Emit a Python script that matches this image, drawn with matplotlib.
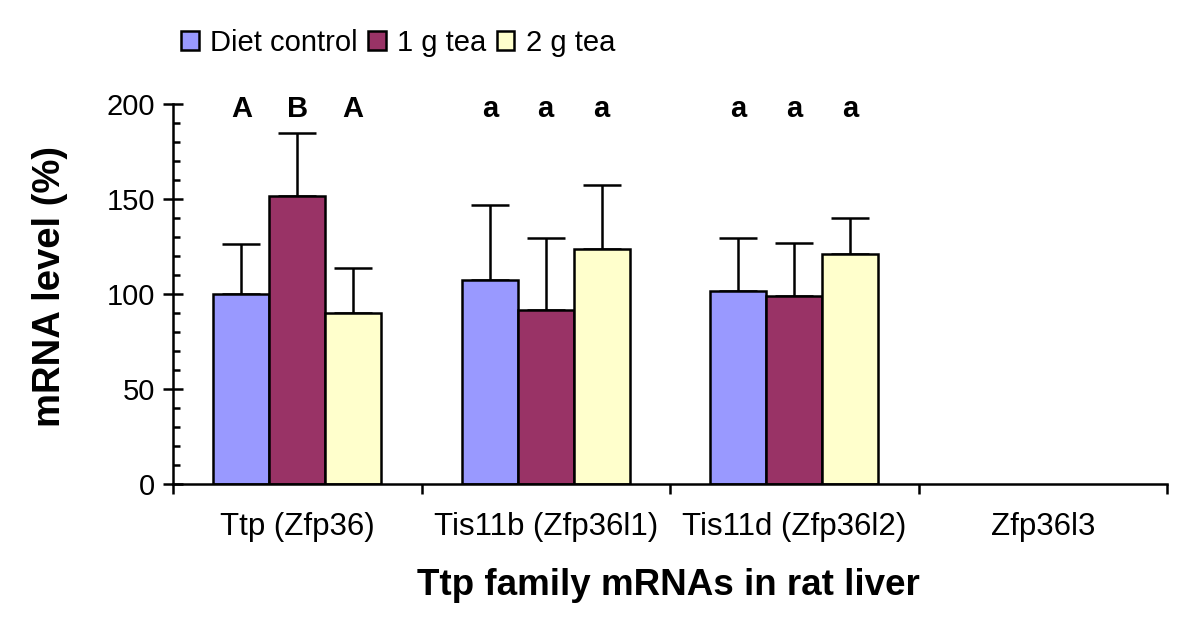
import matplotlib
matplotlib.use("Agg")
import matplotlib.pyplot as plt
from matplotlib.ticker import MultipleLocator, FixedLocator
import numpy as np

plt.rcParams['font.family'] = ['Liberation Sans', 'DejaVu Sans']

categories = ["Ttp (Zfp36)", "Tis11b (Zfp36l1)", "Tis11d (Zfp36l2)", "Zfp36l3"]
series = ["Diet control", "1 g tea", "2 g tea"]
means = {
    "Diet control": [100, 107.5, 101.5, np.nan],
    "1 g tea": [151.5, 91.5, 98.8, np.nan],
    "2 g tea": [90, 123.5, 120.8, np.nan],
}
errors = {
    "Diet control": [26.5, 39.5, 28, np.nan],
    "1 g tea": [33.5, 38, 28, np.nan],
    "2 g tea": [23.5, 34, 19.2, np.nan],
}
letters = {
    "Diet control": ["A", "a", "a", ""],
    "1 g tea": ["B", "a", "a", ""],
    "2 g tea": ["A", "a", "a", ""],
}
colors = ["#9999FF", "#993366", "#FFFFCC"]

fig = plt.figure(figsize=(12, 6.32), dpi=100)
ax = fig.add_axes([173/1200, 1-484/632, (1167-173)/1200, (484-104)/632])

bw = 0.225
centers = np.arange(len(categories)) + 0.5
handles = []
for k, s in enumerate(series):
    x = centers + (k - 1) * bw
    m = np.array(means[s], dtype=float)
    e = np.array(errors[s], dtype=float)
    b = ax.bar(x, m, width=bw, color=colors[k], edgecolor="black", linewidth=1.8,
               label=s, zorder=2)
    handles.append(b)
    ax.errorbar(x, m, yerr=[np.zeros_like(e), e], fmt="none", ecolor="black",
                elinewidth=1.8, capsize=14, capthick=1.8, zorder=1)
    for xi, lt in zip(x, letters[s]):
        if lt:
            ax.text(xi, 197.5, lt, ha="center", va="center", fontsize=21,
                    fontweight="bold")

ax.set_xlim(0, 4)
ax.set_ylim(0, 200)
ax.spines["top"].set_visible(False)
ax.spines["right"].set_visible(False)
ax.spines["left"].set_linewidth(1.8)
ax.spines["bottom"].set_linewidth(1.8)

ax.yaxis.set_major_locator(MultipleLocator(50))
ax.yaxis.set_minor_locator(MultipleLocator(10))
ax.tick_params(axis="y", which="major", direction="inout", length=14, width=1.8,
               labelsize=21, pad=6)
ax.tick_params(axis="y", which="minor", direction="in", length=5, width=1.8)

ax.xaxis.set_major_locator(FixedLocator([0, 1, 2, 3, 4]))
ax.xaxis.set_minor_locator(FixedLocator(list(centers)))
ax.set_xticklabels([])
ax.set_xticklabels(categories, minor=True)
ax.tick_params(axis="x", which="major", direction="out", length=7, width=1.8)
ax.tick_params(axis="x", which="minor", length=0, labelsize=22.5, pad=20)

ax.set_ylabel("mRNA level (%)", fontsize=27.5, fontweight="bold")
ax.yaxis.set_label_coords(-0.106, 0.52)
ax.set_xlabel("Ttp family mRNAs in rat liver", fontsize=26.5, fontweight="bold")
ax.xaxis.set_label_coords(0.498, -0.222)

fig.legend(handles=handles, labels=series, loc="center left",
           bbox_to_anchor=(181/1200, 1-43/632), ncol=3, frameon=False,
           fontsize=21, handlelength=0.6, handleheight=0.6, handletextpad=0.4,
           columnspacing=0.35, borderpad=0, borderaxespad=0)

fig.savefig("out.png", dpi=100)
